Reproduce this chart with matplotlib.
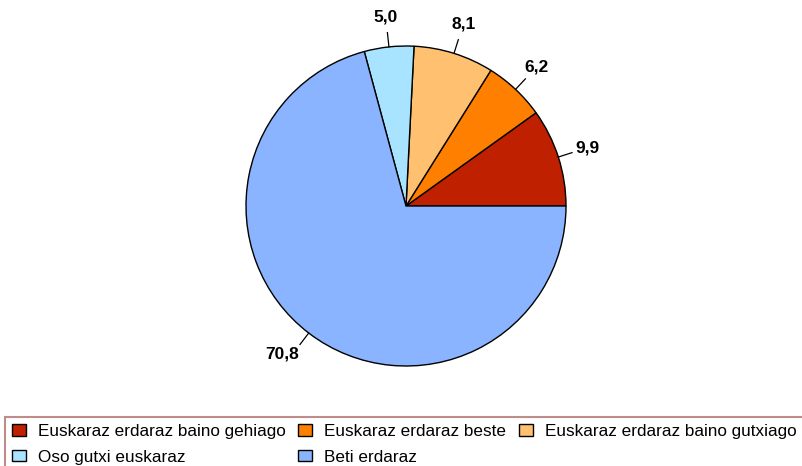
import numpy as np
import matplotlib
matplotlib.use("Agg")
import matplotlib.pyplot as plt

plt.rcParams['font.family'] = ['Liberation Sans', 'DejaVu Sans']

# data
categories = ["Euskaraz erdaraz baino gehiago", "Euskaraz erdaraz beste",
              "Euskaraz erdaraz baino gutxiago", "Oso gutxi euskaraz", "Beti erdaraz"]
values = [9.9, 6.2, 8.1, 5.0, 70.8]
value_labels = ["9,9", "6,2", "8,1", "5,0", "70,8"]
colors = ["#BF2000", "#FF8000", "#FFC070", "#A8E4FF", "#8AB4FF"]

W, H = 802, 466
fig = plt.figure(figsize=(W / 100, H / 100), dpi=100)
ax = fig.add_axes([0, 0, 1, 1])

cx, cy, r = 406, H - 206, 160
wedges, _ = ax.pie(values, colors=colors, startangle=0, counterclock=True,
                   center=(cx, cy), radius=r, frame=True,
                   wedgeprops=dict(edgecolor="black", linewidth=1.0))
ax.set_xlim(0, W)
ax.set_ylim(0, H)
ax.set_aspect("equal")
ax.axis("off")

# labels with short leader lines
total = sum(values)
start = 0.0
for v, lab in zip(values, value_labels):
    mid = np.deg2rad(360 * (start + v / 2) / total)
    start += v
    c, s = np.cos(mid), np.sin(mid)
    ax.plot([cx + r * c, cx + 1.09 * r * c], [cy + r * s, cy + 1.09 * r * s],
            color="black", lw=0.9)
    lx, ly = cx + 1.19 * r * c, cy + 1.19 * r * s
    if v > 50:
        lx, ly = lx - 8, ly + 3
    ax.text(lx, ly, lab, ha="center", va="center",
            fontsize=12.5, fontweight="bold")

# legend, filled row by row
order = [0, 3, 1, 4, 2]
leg = fig.legend([wedges[i] for i in order], [categories[i] for i in order],
                 ncol=3, loc="upper left", bbox_to_anchor=(5 / W, 1 - 417 / H),
                 fontsize=12.3, frameon=True, fancybox=False,
                 handlelength=0.8, handleheight=0.65, handletextpad=0.72,
                 columnspacing=0.75, labelspacing=0.63, borderpad=0.4,
                 borderaxespad=0)
leg.get_frame().set_edgecolor("#B07070")
leg.get_frame().set_linewidth(1.5)

fig.savefig("out.png", dpi=100)
